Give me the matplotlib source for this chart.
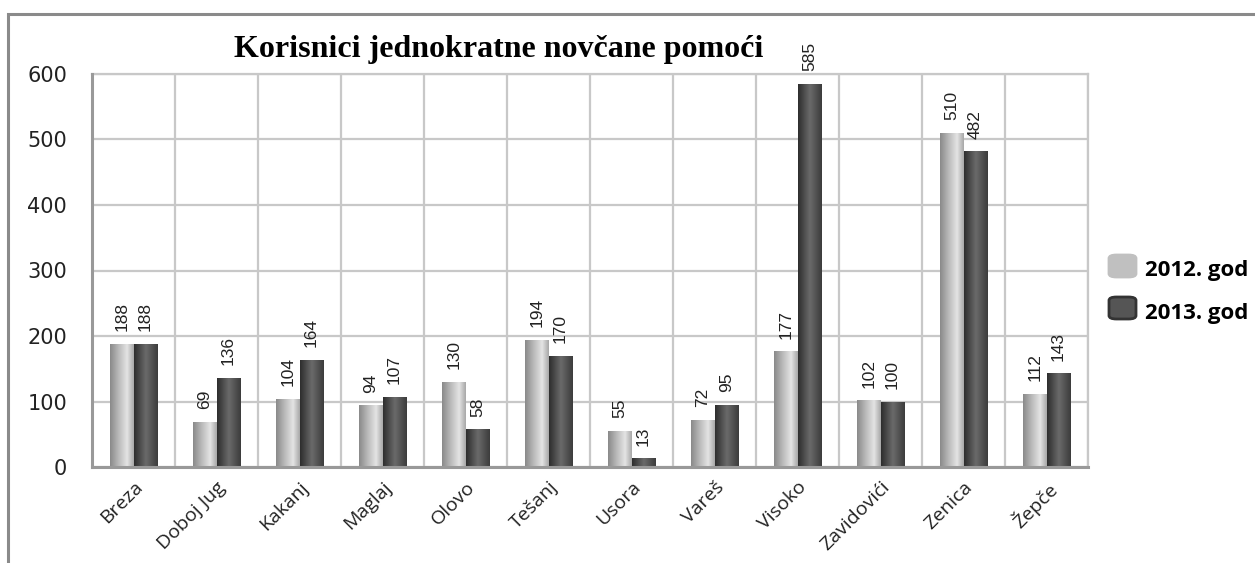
import numpy as np
import matplotlib
matplotlib.use('Agg')
import matplotlib.pyplot as plt
from matplotlib.colors import LinearSegmentedColormap
from matplotlib.patches import Rectangle, FancyBboxPatch

# data
categories = ['Breza', 'Doboj Jug', 'Kakanj', 'Maglaj', 'Olovo', 'Tešanj',
              'Usora', 'Vareš', 'Visoko', 'Zavidovići', 'Zenica', 'Žepče']
god2012 = [188, 69, 104, 94, 130, 194, 55, 72, 177, 102, 510, 112]
god2013 = [188, 136, 164, 107, 58, 170, 13, 95, 585, 100, 482, 143]
series_names = ['2012. god', '2013. god']

W, H = 1255, 563
fig = plt.figure(figsize=(W / 100, H / 100), dpi=100)
ax = fig.add_axes([92 / W, 1 - 467 / H, (1088 - 92) / W, (467 - 74) / H])

# outer frame of the chart (right/bottom run off the picture)
fig.patches.append(Rectangle((8 / W, -0.1), 1.2, 1 - 14 / H + 0.1,
                             transform=fig.transFigure, fill=False,
                             edgecolor='#8a8a8a', lw=2.2, zorder=0))

cmap12 = LinearSegmentedColormap.from_list(
    'c12', [(0, '#8a8a8a'), (0.35, '#b8b8b8'), (0.72, '#e4e4e4'), (1, '#a8a8a8')])
cmap13 = LinearSegmentedColormap.from_list(
    'c13', [(0, '#2e2e2e'), (0.5, '#6a6a6a'), (1, '#3c3c3c')])
grad = np.linspace(0, 1, 64).reshape(1, -1)

x = np.arange(len(categories))
bw = 0.285


def shaded_bars(xpos, vals, cmap):
    bars = ax.bar(xpos, vals, bw, color='none', edgecolor='none', zorder=3)
    for b in bars:
        x0, y0 = b.get_x(), b.get_y()
        im = ax.imshow(grad, cmap=cmap, aspect='auto', zorder=3,
                       extent=(x0, x0 + b.get_width(), y0, y0 + b.get_height()))
        im.set_clip_path(b)
    return bars


b1 = shaded_bars(x - bw / 2, god2012, cmap12)
b2 = shaded_bars(x + bw / 2, god2013, cmap13)

for bars, vals in ((b1, god2012), (b2, god2013)):
    for b, v in zip(bars, vals):
        ax.annotate(str(v), (b.get_x() + b.get_width() / 2, v),
                    xytext=(0, 9), textcoords='offset points',
                    ha='center', va='bottom', rotation=90,
                    fontsize=12.5, family='Liberation Sans', color='#222222')

ax.set_xlim(-0.5, len(categories) - 0.5)
ax.set_ylim(0, 600)
ax.set_yticks(range(0, 601, 100))
ax.set_xticks(x)
ax.set_xticks(np.arange(-0.5, len(categories), 1), minor=True)
ax.set_xticklabels(categories, rotation=45, ha='right', rotation_mode='anchor',
                   fontsize=14, family='Open Sans', color='#222222')
ax.tick_params(axis='x', which='both', length=0, pad=8)
ax.tick_params(axis='y', length=0, pad=18, labelsize=15, labelcolor='#222222')
ax.grid(True, axis='y', color='#c8c8c8', lw=1.6, zorder=1)
ax.grid(True, axis='x', which='minor', color='#c8c8c8', lw=1.6, zorder=1)
for s in ('top', 'right'):
    ax.spines[s].set_color('#c8c8c8')
    ax.spines[s].set_linewidth(1.6)
for s in ('left', 'bottom'):
    ax.spines[s].set_color('#999999')
    ax.spines[s].set_linewidth(2.2)
    ax.spines[s].set_zorder(4)

fig.text(499 / W, 1 - 57 / H, 'Korisnici jednokratne novčane pomoći',
         ha='center', va='baseline', fontsize=23, fontweight='bold',
         family='Liberation Serif')

# legend
leg_y = [266, 308]
leg_fc = ['#c0c0c0', '#555555']
leg_ec = ['#c0c0c0', '#333333']
for yy, fc, ec, name in zip(leg_y, leg_fc, leg_ec, series_names):
    fig.patches.append(FancyBboxPatch((1109 / W, 1 - (yy + 11) / H), 27 / W, 22 / H,
                                      boxstyle='round,pad=0,rounding_size=0.006',
                                      transform=fig.transFigure, facecolor=fc,
                                      edgecolor=ec, lw=2))
    fig.text(1145 / W, 1 - (yy + 5) / H, name, ha='left', va='center',
             fontsize=16, fontweight='bold', family='Open Sans')

fig.savefig('out.png', dpi=100, facecolor='white')
